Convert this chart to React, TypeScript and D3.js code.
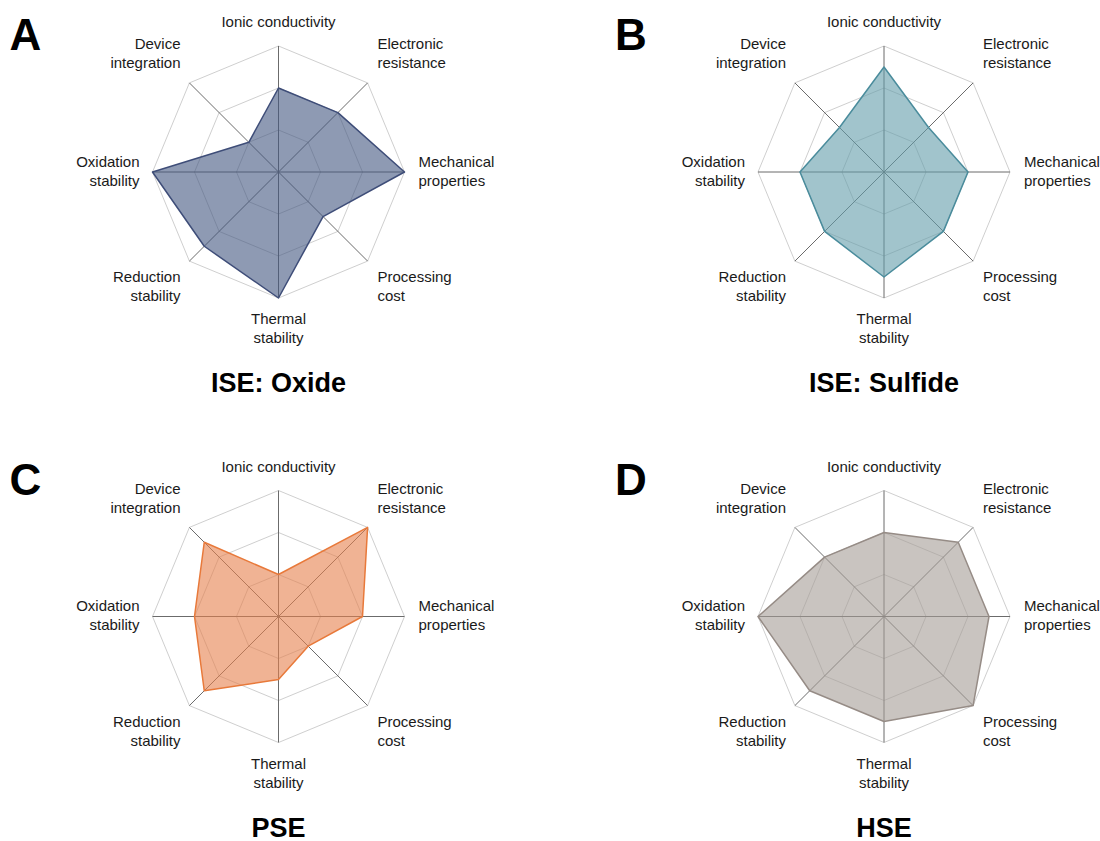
import React from 'react'
import * as d3 from 'd3'

// axes in clockwise order starting at the top
const axes = [
  'Ionic conductivity',
  'Electronic resistance',
  'Mechanical properties',
  'Processing cost',
  'Thermal stability',
  'Reduction stability',
  'Oxidation stability',
  'Device integration',
]
const axisLabelLines = [
  ['Ionic conductivity'],
  ['Electronic', 'resistance'],
  ['Mechanical', 'properties'],
  ['Processing', 'cost'],
  ['Thermal', 'stability'],
  ['Reduction', 'stability'],
  ['Oxidation', 'stability'],
  ['Device', 'integration'],
]

const oxideValues = [2, 2, 3, 1.5, 3, 2.5, 3, 1]
const sulfideValues = [2.5, 1.5, 2, 2, 2.5, 2, 2, 1.5]
const pseValues = [1, 3, 2, 1, 1.5, 2.5, 2, 2.5]
const hseValues = [2, 2.5, 2.5, 3, 2.5, 2.5, 3, 2]

const panelLetters = ['A', 'B', 'C', 'D']
const panelTitles = ['ISE: Oxide', 'ISE: Sulfide', 'PSE', 'HSE']
const gridLevels = [1, 2, 3]
const maxValue = 3

// layout
const W = 1100
const H = 841
const R = 126
const centers = [
  [278.5, 172],
  [884, 172],
  [278.5, 616.5],
  [884, 616.5],
]
const fills = ['#435780', '#629daa', '#e6804d', '#a59d96']
const strokes = ['#3e4d78', '#4a8c9c', '#e8793a', '#968c86']

// label placement relative to the centre: x, y of first line, anchor
const labelOffsets: [number, number, string][] = [
  [0, -149, 'middle'],
  [99, -127, 'start'],
  [140, -9.5, 'start'],
  [99, 106, 'start'],
  [0, 148, 'middle'],
  [-98, 106, 'end'],
  [-139, -9.5, 'end'],
  [-98, -127, 'end'],
]

const angle = d3.scaleLinear().domain([0, axes.length]).range([0, 2 * Math.PI])
const rScale = d3.scaleLinear().domain([0, maxValue]).range([0, R])

const radialLine = d3.lineRadial<number>()
  .angle((d, i) => angle(i))
  .radius(d => rScale(d))
  .curve(d3.curveLinearClosed)

const font = 'Liberation Sans, Arial, sans-serif'

const Radar = ({values, idx}: {values: number[], idx: number}) => {
  const [cx, cy] = centers[idx]
  const pt = (i: number, v: number) => {
    const a = angle(i)
    return [Math.sin(a) * rScale(v), -Math.cos(a) * rScale(v)]
  }
  return (
    <g transform={`translate(${cx},${cy})`}>
      {gridLevels.map(l => (
        <path key={l} d={radialLine(axes.map(() => l)) || ''}
          fill="none" stroke="#cfcfcf" strokeWidth={1} />
      ))}
      {axes.map((a, i) => {
        const [x, y] = pt(i, maxValue)
        return <line key={a} x1={0} y1={0} x2={x} y2={y} stroke="#6b6b6b" strokeWidth={1} />
      })}
      <path d={radialLine(values) || ''} fill={fills[idx]} fillOpacity={0.6}
        stroke={strokes[idx]} strokeWidth={1.5} strokeLinejoin="round" />
      {axisLabelLines.map((lines, i) => {
        const [dx, dy, anchor] = labelOffsets[i]
        return (
          <text key={i} x={dx} y={dy} textAnchor={anchor} dominantBaseline="middle"
            fontFamily={font} fontSize={15} fill="#1a1a1a">
            {lines.map((t, j) => (
              <tspan key={j} x={dx} y={dy + j * 19}>{t}</tspan>
            ))}
          </text>
        )
      })}
      <text x={0} y={220} textAnchor="middle" fontFamily={font}
        fontSize={27} fontWeight="bold" fill="#000">{panelTitles[idx]}</text>
    </g>
  )
}

export default function App() {
  const series = [oxideValues, sulfideValues, pseValues, hseValues]
  return (
    <svg width={W} height={H} style={{position: 'absolute', left: 0, top: 0, background: '#fff'}}>
      <rect width={W} height={H} fill="#fff" />
      {series.map((v, i) => <Radar key={i} values={v} idx={i} />)}
      {panelLetters.map((l, i) => (
        <text key={l} x={centers[i][0] - 269} y={centers[i][1] - 122}
          fontFamily={font} fontSize={44} fontWeight="bold" fill="#000">{l}</text>
      ))}
    </svg>
  )
}
